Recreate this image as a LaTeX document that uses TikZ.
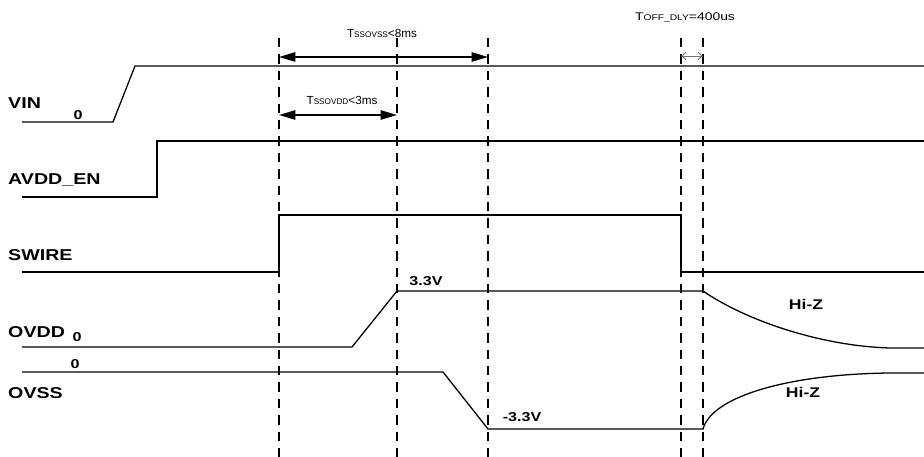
\documentclass[tikz,border=0pt]{standalone}
\usepackage{fontspec}
\setmainfont{Liberation Sans}
\newfontfamily\widesans[FakeStretch=1.25]{Liberation Sans}
\usetikzlibrary{arrows.meta}
\begin{document}
\begin{tikzpicture}[x=0.03cm,y=-0.03cm,
  sig/.style={line width=1.1pt},
  guide/.style={line width=1.4pt,dash pattern=on 8pt off 6pt},
  lbl/.style={font=\widesans\fontsize{13.4}{13.4}\selectfont\bfseries,anchor=west,inner sep=0pt},
  val/.style={font=\widesans\fontsize{11}{11}\selectfont\bfseries,inner sep=0pt},
  tlbl/.style={font=\fontsize{10}{10}\selectfont,inner sep=0pt},
  span/.style={line width=1.2pt,{Triangle[length=14pt,width=8pt]}-{Triangle[length=14pt,width=8pt]}}]
	\useasboundingbox (0,0) rectangle (924,457);
	
	% Guides
	\foreach \x in {279,397,488,681,703}
		\draw[guide] (\x,38) -- (\x,457);
	
	% Signal names
	\node[lbl] (vin) at (8,103) {VIN};
	\node[lbl] (avdd) at (8,180) {AVDD\_EN};
	\node[lbl] (swire) at (8,255) {SWIRE};
	\node[lbl] (ovdd) at (8,332) {OVDD};
	\node[lbl] (ovss) at (8,393) {OVSS};
	
	% Waveforms
	\draw[sig] (22,122) -- (113,122) -- (135,66) -- (924,66);
	\draw[sig] (22,197) -- (157,197) -- (157,141) -- (924,141);
	\draw[sig] (22,272) -- (279,272) -- (279,215) -- (681,215) -- (681,272) -- (924,272);
	\draw[sig] (22,347) -- (352,347) -- (397,291) -- (703,291)
		.. controls (745,320) and (820,346) .. (890,348) -- (924,348);
	\draw[sig] (22,372) -- (443,372) -- (488,429) -- (703,429)
		.. controls (712,396) and (790,374) .. (890,373) -- (924,373);
	
	% Levels
	\node[val] (vin0) at (78,115) {0};
	\node[val] (ovdd0) at (77,337) {0};
	\node[val] (ovss0) at (75,364) {0};
	\node[val] (pos) at (426,281) {3.3V};
	\node[val] (neg) at (522,417) {-3.3V};
	\node[val,font=\widesans\fontsize{12}{12}\selectfont\bfseries] (hiz1) at (806,304) {Hi-Z};
	\node[val,font=\widesans\fontsize{12}{12}\selectfont\bfseries] (hiz2) at (803,392) {Hi-Z};
	
	% Timing
	\coordinate (a1) at (279,57);
	\coordinate (a2) at (488,57);
	\coordinate (b1) at (279,115);
	\coordinate (b2) at (397,115);
	\coordinate (c1) at (681,56);
	\coordinate (c2) at (703,56);
	\draw[span] (a1) -- (a2);
	\draw[span] (b1) -- (b2);
	\draw[black!55,line width=0.8pt,{Straight Barb[length=3.5pt,width=6pt]}-{Straight Barb[length=3.5pt,width=6pt]}] (c1) -- (c2);
	\node[tlbl] (tvss) at (382,33) {T{\fontsize{7}{7}\selectfont SSOVSS}<8ms};
	\node[tlbl] (tvdd) at (342,100) {T{\fontsize{7}{7}\selectfont SSOVDD}<3ms};
	\node[tlbl,font=\widesans\fontsize{9.5}{9.5}\selectfont] (toff) at (685,17) {T{\fontsize{7}{7}\selectfont OFF\_DLY}=400us};
\end{tikzpicture}
\end{document}
